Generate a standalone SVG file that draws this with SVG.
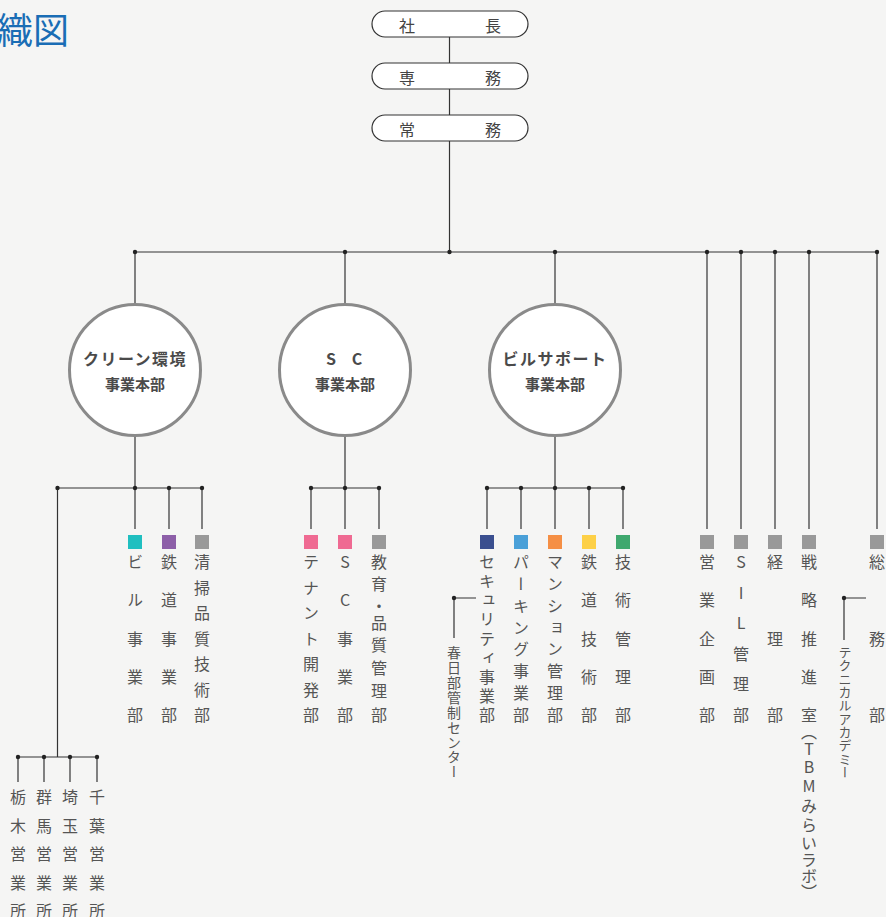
<svg xmlns="http://www.w3.org/2000/svg" width="886" height="917" viewBox="0 0 886 917">
<style>
.bg{fill:#f5f5f4}
.ln{stroke:#333;stroke-width:1.2;fill:none}
.dot{fill:#222}
.pill{fill:#fff;stroke:#333;stroke-width:1.2}
.pt{font-family:"Noto Sans CJK JP","Noto Sans",sans-serif;font-size:16px;fill:#444;dominant-baseline:central;text-anchor:middle}
.circ{fill:#fff;stroke:#8a8a8a;stroke-width:3}
.ct{font-family:"Noto Sans CJK JP","Noto Sans",sans-serif;font-weight:bold;fill:#4a4a4a;dominant-baseline:central;text-anchor:middle}
.vt{font-family:"Noto Sans CJK JP","Noto Sans",sans-serif;font-size:16px;fill:#555;writing-mode:vertical-rl;text-orientation:upright;text-anchor:middle}
.sm{font-size:13px}
.sm14{font-size:14px}
.title{font-family:"Noto Sans CJK JP","Noto Sans",sans-serif;font-size:36px;fill:#1a6db5}
</style>
<rect class="bg" x="0" y="0" width="886" height="917"/>
<text class="title" x="-3" y="44">織図</text>

<g id="connectors">
<line class="ln" x1="449.5" y1="37" x2="449.5" y2="63"/>
<line class="ln" x1="449.5" y1="89" x2="449.5" y2="115"/>
<line class="ln" x1="449.5" y1="141" x2="449.5" y2="252"/>
<line class="ln" x1="135" y1="252" x2="877" y2="252"/>
<line class="ln" x1="135" y1="252" x2="135" y2="304"/>
<line class="ln" x1="345" y1="252" x2="345" y2="304"/>
<line class="ln" x1="555" y1="252" x2="555" y2="304"/>
<line class="ln" x1="707" y1="252" x2="707" y2="529"/>
<line class="ln" x1="741" y1="252" x2="741" y2="529"/>
<line class="ln" x1="775" y1="252" x2="775" y2="529"/>
<line class="ln" x1="809" y1="252" x2="809" y2="529"/>
<line class="ln" x1="877" y1="252" x2="877" y2="529"/>
<line class="ln" x1="135" y1="436" x2="135" y2="529"/>
<line class="ln" x1="345" y1="436" x2="345" y2="529"/>
<line class="ln" x1="555" y1="436" x2="555" y2="529"/>
<line class="ln" x1="57.5" y1="488" x2="202" y2="488"/>
<line class="ln" x1="169" y1="488" x2="169" y2="529"/>
<line class="ln" x1="202" y1="488" x2="202" y2="529"/>
<line class="ln" x1="57.5" y1="488" x2="57.5" y2="757"/>
<line class="ln" x1="18" y1="757" x2="97" y2="757"/>
<line class="ln" x1="18" y1="757" x2="18" y2="782"/>
<line class="ln" x1="44" y1="757" x2="44" y2="782"/>
<line class="ln" x1="70" y1="757" x2="70" y2="782"/>
<line class="ln" x1="97" y1="757" x2="97" y2="782"/>
<line class="ln" x1="311" y1="488" x2="379" y2="488"/>
<line class="ln" x1="311" y1="488" x2="311" y2="529"/>
<line class="ln" x1="379" y1="488" x2="379" y2="529"/>
<line class="ln" x1="487" y1="488" x2="623" y2="488"/>
<line class="ln" x1="487" y1="488" x2="487" y2="529"/>
<line class="ln" x1="521" y1="488" x2="521" y2="529"/>
<line class="ln" x1="589" y1="488" x2="589" y2="529"/>
<line class="ln" x1="623" y1="488" x2="623" y2="529"/>
<polyline class="ln" points="476,598 454,598 454,638"/>
<polyline class="ln" points="866,598 844,598 844,640"/>
<circle class="dot" cx="135" cy="252" r="2.2"/>
<circle class="dot" cx="345" cy="252" r="2.2"/>
<circle class="dot" cx="449.5" cy="252" r="2.2"/>
<circle class="dot" cx="555" cy="252" r="2.2"/>
<circle class="dot" cx="707" cy="252" r="2.2"/>
<circle class="dot" cx="741" cy="252" r="2.2"/>
<circle class="dot" cx="775" cy="252" r="2.2"/>
<circle class="dot" cx="809" cy="252" r="2.2"/>
<circle class="dot" cx="877" cy="252" r="2.2"/>
<circle class="dot" cx="57.5" cy="488" r="2.2"/>
<circle class="dot" cx="135" cy="488" r="2.2"/>
<circle class="dot" cx="169" cy="488" r="2.2"/>
<circle class="dot" cx="202" cy="488" r="2.2"/>
<circle class="dot" cx="311" cy="488" r="2.2"/>
<circle class="dot" cx="345" cy="488" r="2.2"/>
<circle class="dot" cx="379" cy="488" r="2.2"/>
<circle class="dot" cx="487" cy="488" r="2.2"/>
<circle class="dot" cx="521" cy="488" r="2.2"/>
<circle class="dot" cx="555" cy="488" r="2.2"/>
<circle class="dot" cx="589" cy="488" r="2.2"/>
<circle class="dot" cx="623" cy="488" r="2.2"/>
<circle class="dot" cx="18" cy="757" r="2.2"/>
<circle class="dot" cx="44" cy="757" r="2.2"/>
<circle class="dot" cx="70" cy="757" r="2.2"/>
<circle class="dot" cx="97" cy="757" r="2.2"/>
<circle class="dot" cx="454" cy="598" r="2.2"/>
<circle class="dot" cx="844" cy="598" r="2.2"/>
</g>

<g id="president"><rect class="pill" x="372" y="11" width="156" height="26" rx="13"/><text class="pt" x="407 493" y="24.5">社長</text></g>
<g id="senmu"><rect class="pill" x="372" y="63" width="156" height="26" rx="13"/><text class="pt" x="407 493" y="76.5">専務</text></g>
<g id="jomu"><rect class="pill" x="372" y="115" width="156" height="26" rx="13"/><text class="pt" x="407 493" y="128.5">常務</text></g>

<g id="clean"><circle class="circ" cx="135" cy="370" r="65.5"/><text class="ct" x="135" y="358" font-size="16" letter-spacing="1.5">クリーン環境</text><text class="ct" x="135" y="383" font-size="15">事業本部</text></g>
<g id="sc"><circle class="circ" cx="345" cy="370" r="65.5"/><text class="ct" x="331 344 357" y="358" font-size="16">S C</text><text class="ct" x="345" y="383" font-size="15">事業本部</text></g>
<g id="bldg"><circle class="circ" cx="555" cy="370" r="65.5"/><text class="ct" x="555" y="358" font-size="16" letter-spacing="1.5">ビルサポート</text><text class="ct" x="555" y="383" font-size="15">事業本部</text></g>

<g id="d-biru"><rect x="128" y="535" width="14" height="14" fill="#20bfc0"/><text class="vt" x="135" y="562 600.25 638.5 676.75 715">ビル事業部</text></g>
<g id="d-tetsudo"><rect x="162" y="535" width="14" height="14" fill="#8d5fa8"/><text class="vt" x="169" y="562 600.25 638.5 676.75 715">鉄道事業部</text></g>
<g id="d-seiso"><rect x="195" y="535" width="14" height="14" fill="#999"/><text class="vt" x="202" y="562 587.5 613 638.5 664 689.5 715">清掃品質技術部</text></g>

<g id="d-tenant"><rect x="304" y="535" width="14" height="14" fill="#ef6a92"/><text class="vt" x="311" y="562 587.5 613 638.5 664 689.5 715">テナント開発部</text></g>
<g id="d-scj"><rect x="338" y="535" width="14" height="14" fill="#ef6a92"/><text class="vt" x="345" y="562 600.25 638.5 676.75 715">SC事業部</text></g>
<g id="d-kyoiku"><rect x="372" y="535" width="14" height="14" fill="#999"/><text class="vt" x="379" y="562 584 606 623 645 668 691 715">教育・品質管理部</text></g>

<g id="d-security"><rect x="480" y="535" width="14" height="14" fill="#3a4f8f"/><text class="vt" x="487" y="562 581.1 600.3 619.4 638.5 657.6 676.8 695.9 715">セキュリティ事業部</text></g>
<g id="d-kasukabe"><text class="vt sm14" x="454" y="653 667.9 682.8 697.6 712.5 727.4 742.3 757.1 772">春日部管制センター</text></g>
<g id="d-parking"><rect x="514" y="535" width="14" height="14" fill="#4aa0d8"/><text class="vt" x="521" y="562 583.9 605.7 627.6 649.4 671.3 693.1 715">パーキング事業部</text></g>
<g id="d-mansion"><rect x="548" y="535" width="14" height="14" fill="#f58f45"/><text class="vt" x="555" y="562 583.9 605.7 627.6 649.4 671.3 693.1 715">マンション管理部</text></g>
<g id="d-tetsugi"><rect x="582" y="535" width="14" height="14" fill="#fdd047"/><text class="vt" x="589" y="562 600.25 638.5 676.75 715">鉄道技術部</text></g>
<g id="d-gijutsu"><rect x="616" y="535" width="14" height="14" fill="#3fa86e"/><text class="vt" x="623" y="562 600.25 638.5 676.75 715">技術管理部</text></g>

<g id="d-eigyo"><rect x="700" y="535" width="14" height="14" fill="#999"/><text class="vt" x="707" y="562 600.25 638.5 676.75 715">営業企画部</text></g>
<g id="d-sil"><rect x="734" y="535" width="14" height="14" fill="#999"/><text class="vt" x="741" y="562 592.6 623.2 653.8 684.4 715">SIL管理部</text></g>
<g id="d-keiri"><rect x="768" y="535" width="14" height="14" fill="#999"/><text class="vt" x="775" y="562 638.5 715">経理部</text></g>
<g id="d-senryaku"><rect x="802" y="535" width="14" height="14" fill="#999"/><text class="vt" x="809" y="562 600.25 638.5 676.75 715 732 749 767 786 806 825 843 860 876 892">戦略推進室（TBMみらいラボ）</text></g>
<g id="d-tech"><text class="vt sm" x="845" y="652 665.3 678.7 692 705.3 718.7 732 745.3 758.7 772">テクニカルアカデミー</text></g>
<g id="d-somu"><rect x="870" y="535" width="14" height="14" fill="#999"/><text class="vt" x="877" y="562 638.5 715">総務部</text></g>

<g id="o-tochigi"><text class="vt" x="18" y="797 825.5 854 882.5 911">栃木営業所</text></g>
<g id="o-gunma"><text class="vt" x="44" y="797 825.5 854 882.5 911">群馬営業所</text></g>
<g id="o-saitama"><text class="vt" x="70" y="797 825.5 854 882.5 911">埼玉営業所</text></g>
<g id="o-chiba"><text class="vt" x="97" y="797 825.5 854 882.5 911">千葉営業所</text></g>
</svg>
